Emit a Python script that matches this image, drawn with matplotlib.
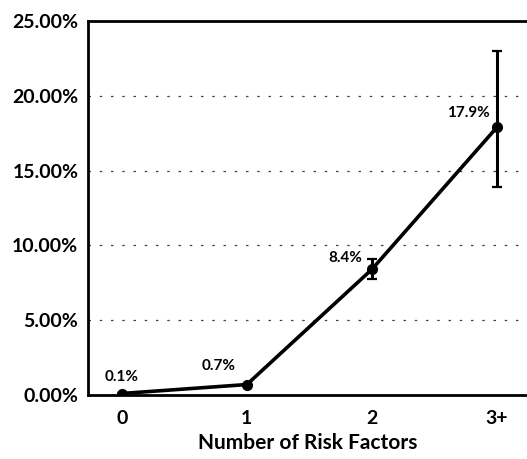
import matplotlib.pyplot as plt

categories = ['0', '1', '2', '3+']
risk = [0.1, 0.7, 8.4, 17.9]          # percent
err_lo = [0, 0, 0.65, 4.0]
err_hi = [0, 0, 0.7, 5.1]
labels = ['0.1%', '0.7%', '8.4%', '17.9%']
yticks = [0, 5, 10, 15, 20, 25]

plt.rcParams['font.family'] = ['Lato', 'DejaVu Sans']

fig = plt.figure(figsize=(5.27, 4.59), dpi=100)
ax = fig.add_axes([88/527, 1 - 395/459, 439/527, 374/459])

x = list(range(len(categories)))
ax.errorbar(x, risk, yerr=[err_lo, err_hi], color='black', lw=2.6,
            marker='o', ms=7, ecolor='black', elinewidth=2.2, capsize=3.5, capthick=1.6,
            zorder=3)

offsets = [(0, 7, 'center'), (-8, 8, 'right'), (-7, 3, 'right'), (-5, 5, 'right')]
for xi, yi, lab, (dx, dy, ha) in zip(x, risk, labels, offsets):
    ax.annotate(lab, (xi, yi), xytext=(dx, dy), textcoords='offset points',
                ha=ha, va='bottom', fontsize=11, fontweight='bold')

ax.set_xlim(-0.27, 3.24)
ax.set_ylim(0, 25)
ax.set_xticks(x)
ax.set_xticklabels(categories)
ax.set_yticks(yticks)
ax.set_yticklabels([f'{v:.2f}%' for v in yticks])
ax.tick_params(length=0, labelsize=14, pad=7)
ax.tick_params(axis='x', pad=11)
for t in ax.get_xticklabels() + ax.get_yticklabels():
    t.set_fontweight('bold')

ax.yaxis.grid(True, color='#444444', linestyle=(0, (2, 7)), lw=0.9)
ax.set_axisbelow(True)
ax.spines['right'].set_visible(False)
for s in ['left', 'top', 'bottom']:
    ax.spines[s].set_linewidth(2)

ax.set_xlabel('Number of Risk Factors', fontsize=15, fontweight='bold', labelpad=4)

fig.savefig('out.png', dpi=100)
